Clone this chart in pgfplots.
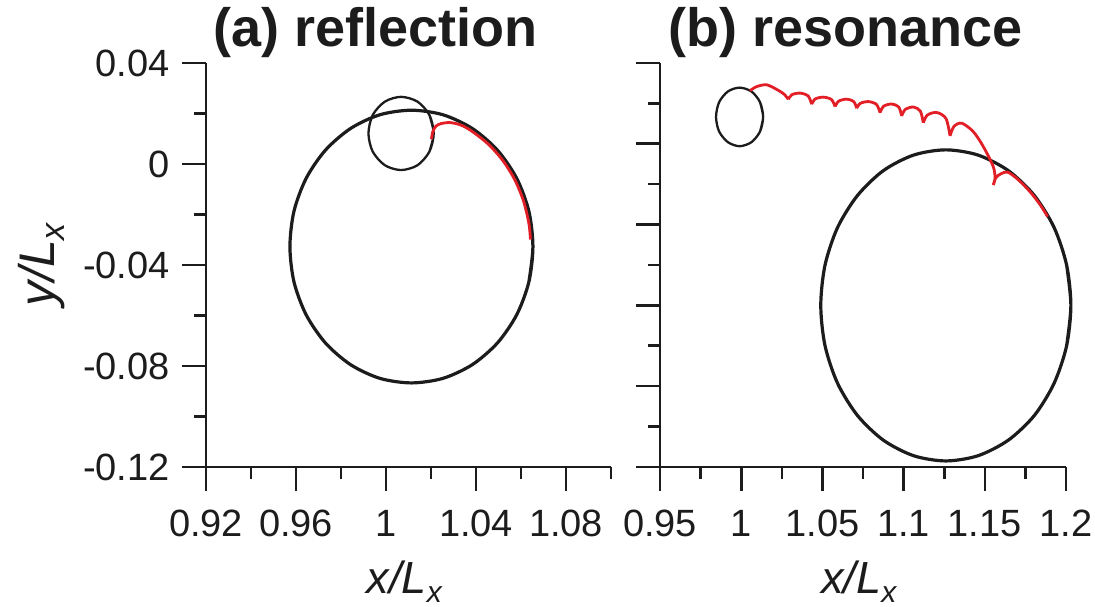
\documentclass[border=0pt]{standalone}
\usepackage{fontspec}
\setmainfont{Liberation Sans}
\usepackage{pgfplots}
\pgfplotsset{compat=1.18}
\definecolor{trk}{RGB}{226,30,38}
\definecolor{crc}{RGB}{28,28,28}
\newcommand{\xlab}{x/L\raisebox{-9pt}{\fontsize{30}{30}\selectfont x}}
\newcommand{\ylab}{y/L\raisebox{-10pt}{\fontsize{34}{34}\selectfont x}}
\pgfplotsset{
  myaxis/.style={
    scale only axis, height=404pt, ymax=0.04, clip=false,
    axis lines*=left, tick align=outside, tick pos=left,
    major tick length=24pt, minor tick length=12pt,
    axis line style={line width=2.6pt, crc},
    tick style={line width=2.6pt, crc},
    ticklabel style={font=\fontsize{38}{42}\selectfont, inner sep=0pt, text=crc},
    xticklabel style={anchor=north},
    yticklabel style={anchor=east},
    xticklabel shift=19pt, yticklabel shift=12pt,
    xlabel style={font=\fontsize{45}{48}\selectfont\itshape, at={(axis description cs:0.49,-0.312)}, anchor=base, inner sep=0pt, text=crc},
    title style={font=\fontsize{54}{58}\selectfont\bfseries, anchor=base west, inner sep=0pt, text=crc},
  },
  bigc/.style={smooth, line width=3.2pt, crc},
  smallc/.style={smooth, line width=2.3pt, crc},
  redc/.style={smooth, line width=2.8pt, trk},
}
\begin{document}
\begin{tikzpicture}
\path[use as bounding box] (0,0) rectangle (1095pt,607pt);
% ---------------- (a) reflection ----------------
\begin{axis}[myaxis, at={(206pt,140pt)}, anchor=south west, width=405pt,
  xmin=0.92, xmax=1.10, ymin=-0.12,
  xtick={0.92,0.96,1,1.04,1.08}, xticklabels={0.92,0.96,1,1.04,1.08},
  minor xtick={0.94,0.98,1.02,1.06,1.10},
  ytick={-0.12,-0.08,-0.04,0,0.04}, yticklabels={-0.12,-0.08,-0.04,0,0.04},
  minor ytick={-0.10,-0.06,-0.02,0.02},
  xlabel={\xlab},
  ylabel={\ylab},
  ylabel style={font=\fontsize{50}{54}\selectfont\itshape, at={(axis description cs:-0.373,0.5)}, anchor=base, inner sep=0pt, text=crc},
  title={(a) reflection},
  title style={at={(axis description cs:0.017,1.025)}},
]
% large orbit
\addplot[bigc] coordinates {
(1.0635,-0.0467) (1.0653,-0.0327) (1.0635,-0.0187) (1.0581,-0.0057) (1.0495,0.0055)
(1.0383,0.0141) (1.0253,0.0195) (1.0113,0.0213) (0.9973,0.0195) (0.9843,0.0141)
(0.9731,0.0055) (0.9645,-0.0057) (0.9591,-0.0187) (0.9573,-0.0327) (0.9591,-0.0467)
(0.9645,-0.0597) (0.9731,-0.0709) (0.9843,-0.0795) (0.9973,-0.0849) (1.0113,-0.0867)
(1.0253,-0.0849) (1.0383,-0.0795) (1.0495,-0.0709) (1.0581,-0.0597) (1.0635,-0.0467)
(1.0653,-0.0327) (1.0635,-0.0187)
};
% small orbit
\addplot[smallc] coordinates {
(1.0193,0.0049) (1.0212,0.0121) (1.0193,0.0194) (1.0140,0.0247) (1.0067,0.0266)
(0.9995,0.0247) (0.9941,0.0194) (0.9922,0.0121) (0.9941,0.0049) (0.9995,-0.0005)
(1.0067,-0.0024) (1.0140,-0.0005) (1.0193,0.0049) (1.0212,0.0121) (1.0193,0.0194)
};
% transfer trajectory
\addplot[redc] coordinates {
(1.0202,0.0098) (1.0208,0.0128) (1.0222,0.0150) (1.0245,0.0160) (1.0284,0.0164)
(1.0330,0.0155) (1.0378,0.0132) (1.0454,0.0079) (1.0519,0.0014) (1.0572,-0.0062)
(1.0611,-0.0146) (1.0635,-0.0235) (1.0642,-0.0299)
};
\end{axis}
% ---------------- (b) resonance ----------------
\begin{axis}[myaxis, at={(660pt,140pt)}, anchor=south west, width=406pt,
  xmin=0.95, xmax=1.2, ymin=-0.16,
  xtick={0.95,1,1.05,1.1,1.15,1.2}, xticklabels={0.95,1,1.05,1.1,1.15,1.2},
  minor xtick={0.975,1.025,1.075,1.125,1.175},
  ytick={-0.16,-0.12,-0.08,-0.04,0,0.04}, yticklabels={},
  minor ytick={-0.14,-0.10,-0.06,-0.02,0.02},
  xlabel={\xlab},
  title={(b) resonance},
  title style={at={(axis description cs:0.02,1.025)}},
  unbounded coords=jump,
]
\addplot[bigc] coordinates {
(1.2004,-0.0999) (1.2030,-0.0800) (1.2004,-0.0601) (1.1927,-0.0415) (1.1805,-0.0256)
(1.1645,-0.0133) (1.1459,-0.0056) (1.1260,-0.0030) (1.1061,-0.0056) (1.0875,-0.0133)
(1.0716,-0.0256) (1.0593,-0.0415) (1.0516,-0.0601) (1.0490,-0.0800) (1.0516,-0.0999)
(1.0593,-0.1185) (1.0716,-0.1345) (1.0875,-0.1467) (1.1061,-0.1544) (1.1260,-0.1570)
(1.1459,-0.1544) (1.1645,-0.1467) (1.1805,-0.1345) (1.1927,-0.1185) (1.2004,-0.0999)
(1.2030,-0.0800) (1.2004,-0.0601)
};
\addplot[smallc] coordinates {
(1.0116,0.0061) (1.0135,0.0133) (1.0116,0.0206) (1.0063,0.0259) (0.9990,0.0278)
(0.9918,0.0259) (0.9864,0.0206) (0.9845,0.0133) (0.9864,0.0061) (0.9918,0.0008)
(0.9990,-0.0012) (1.0063,0.0008) (1.0116,0.0061) (1.0135,0.0133) (1.0116,0.0206)
};
\addplot[redc] coordinates {
(1.0054,0.0263) (1.0095,0.0283) (1.0157,0.0292) (1.0228,0.0265) (1.0268,0.0243) (1.0290,0.0220)
(nan,nan)
(1.0290,0.0220) (1.0312,0.0243) (1.0362,0.0251) (1.0412,0.0237) (1.0434,0.0196)
(nan,nan)
(1.0434,0.0196) (1.0456,0.0222) (1.0506,0.0231) (1.0556,0.0219) (1.0578,0.0184)
(nan,nan)
(1.0578,0.0184) (1.0600,0.0211) (1.0650,0.0221) (1.0693,0.0209) (1.0711,0.0176)
(nan,nan)
(1.0711,0.0176) (1.0733,0.0200) (1.0783,0.0209) (1.0833,0.0195) (1.0855,0.0154)
(nan,nan)
(1.0855,0.0154) (1.0877,0.0186) (1.0927,0.0197) (1.0970,0.0182) (1.0988,0.0138)
(nan,nan)
(1.0988,0.0138) (1.1010,0.0170) (1.1060,0.0182) (1.1103,0.0162) (1.1121,0.0104)
(nan,nan)
(1.1121,0.0104) (1.1146,0.0142) (1.1204,0.0155) (1.1261,0.0125) (1.1286,0.0039)
(nan,nan)
(1.1286,0.0039) (1.1310,0.0086) (1.1358,0.0102) (1.1429,0.0060) (1.1491,-0.0014)
(1.1552,-0.0113) (1.1563,-0.0171) (1.1552,-0.0204)
(nan,nan)
(1.1552,-0.0204) (1.1568,-0.0168) (1.1598,-0.0149) (1.1640,-0.0140) (1.1699,-0.0173)
(1.1752,-0.0214) (1.1801,-0.0259) (1.1846,-0.0308) (1.1887,-0.0361)
};
\end{axis}
\end{tikzpicture}
\end{document}
